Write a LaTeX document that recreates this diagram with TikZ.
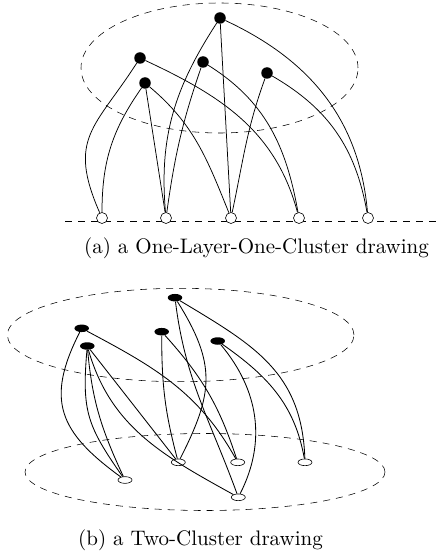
\documentclass[tikz,border=0pt]{standalone}
\usepackage{fontspec}
\newfontfamily\capfont{lmroman10-regular}[Extension=.otf]
\usetikzlibrary{shapes.geometric}
\tikzset{
  bnode/.style={circle, fill=black, inner sep=0pt, minimum size=11.5pt},
  wnode/.style={circle, draw, fill=white, inner sep=0pt, minimum size=11pt, line width=0.6pt},
  bell/.style={ellipse, fill=black, inner sep=0pt, minimum width=14.5pt, minimum height=7.5pt},
  well/.style={ellipse, draw, fill=white, inner sep=0pt, minimum width=14pt, minimum height=6.7pt, line width=0.6pt},
  edge/.style={line width=0.75pt},
  edgeb/.style={line width=0.85pt},
  dashc/.style={dash pattern=on 7pt off 6pt, line width=0.55pt},
  capt/.style={anchor=base, inner sep=0pt, font=\capfont\fontsize{21}{25}\selectfont}
}
\begin{document}
\begin{tikzpicture}[x=1pt,y=1pt]
\useasboundingbox (0,0) rectangle (441,-553);
% ---------- (a) ----------
\draw[dashc] (219.5pt,-68pt) ellipse [x radius=138.5pt, y radius=65pt];
\coordinate (dl) at (65,-221);
\coordinate (dr) at (441,-221);
\draw[dashc] (dl) -- (dr);
\node[bnode] (T) at (220,-18) {};
\node[bnode] (L1) at (140,-58) {};
\node[bnode] (L2) at (145,-83) {};
\node[bnode] (M) at (203,-62) {};
\node[bnode] (R) at (267,-73) {};
\node[wnode] (W1) at (102,-218) {};
\node[wnode] (W2) at (166,-218) {};
\node[wnode] (W3) at (231,-218) {};
\node[wnode] (W4) at (299,-218) {};
\node[wnode] (W5) at (368,-218) {};
\draw[edge] (L1) .. controls +(-45,-70) and +(-35,80) .. (W1);
\draw[edge] (L1) to[out=-25,in=105] (W4);
\draw[edge] (L2) to[out=235,in=90] (W1);
\draw[edge] (L2) -- (W2);
\draw[edge] (L2) to[out=-40,in=112] (W3);
\draw[edge] (T) to[out=237,in=95] (W2);
\draw[edge] (T) -- (W3);
\draw[edge] (T) to[out=-25,in=95] (W5);
\draw[edge] (M) to[out=251,in=82] (W2);
\draw[edge] (M) to[out=-32,in=100] (W4);
\draw[edge] (R) to[out=250,in=78] (W3);
\draw[edge] (R) to[out=-30,in=100] (W5);
\node[capt] (capa) at (256.5,-253) {(a) a One-Layer-One-Cluster drawing};
% ---------- (b) ----------
\draw[dashc] (180.7pt,-335pt) ellipse [x radius=173.3pt, y radius=46.7pt];
\draw[dashc] (205pt,-472pt) ellipse [x radius=180pt, y radius=38.5pt];
\node[bell] (Tb) at (175,-297.7) {};
\node[bell] (L1b) at (81.7,-328.3) {};
\node[bell] (L2b) at (87.3,-346) {};
\node[bell] (Mb) at (161.7,-331.7) {};
\node[bell] (Rb) at (217.7,-341) {};
\node[well] (W1b) at (125,-480) {};
\node[well] (W2b) at (178.3,-462.3) {};
\node[well] (W3b) at (237.7,-462.3) {};
\node[well] (W4b) at (305,-462.3) {};
\node[well] (W5b) at (238.3,-497.3) {};
\draw[edgeb] (L1b) to[out=243,in=144,looseness=1.3] (W1b);
\draw[edgeb] (L2b) to[out=265,in=125,looseness=1.2] (W1b);
\draw[edgeb] (L2b) to[out=275,in=115] (W1b);
\draw[edgeb] (L2b) -- (W2b);
\draw[edgeb] (L2b) to[out=-74,in=151] (W5b);
\draw[edgeb] (L1b) to[out=-28,in=119] (W3b);
\draw[edgeb] (Mb) to[out=270,in=105] (W2b);
\draw[edgeb] (Mb) to[out=-48,in=108] (W3b);
\draw[edgeb] (Tb) to[out=-58,in=63,looseness=1.2] (W2b);
\draw[edgeb] (Tb) to[out=277,in=110] (W5b);
\draw[edgeb] (Tb) to[out=-31,in=92,looseness=1.1] (W4b);
\draw[edgeb] (Rb) to[out=-35,in=100] (W4b);
\draw[edgeb] (Rb) to[out=-50,in=63] (W5b);
\node[capt] (capb) at (200.5,-545) {(b) a Two-Cluster drawing};
\end{tikzpicture}
\end{document}
